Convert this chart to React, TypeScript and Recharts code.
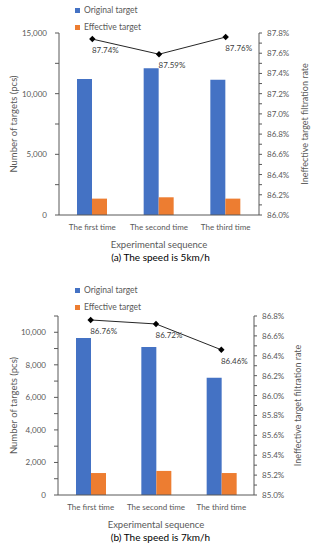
import React from 'react';
import { ComposedChart, Bar, Line, XAxis, YAxis, Legend, LabelList } from 'recharts';

const categories = ['The first time', 'The second time', 'The third time'];
const seriesNames = ['Original target', 'Effective target'];

const originalA = [11200, 12100, 11150];
const effectiveA = [1350, 1460, 1350];
const rateA = [87.74, 87.59, 87.76];

const originalB = [9650, 9100, 7200];
const effectiveB = [1350, 1480, 1350];
const rateB = [86.76, 86.72, 86.46];

const leftTicksA = [0, 2500, 5000, 7500, 10000, 12500, 15000];
const rightTicksA = [86.0, 86.1, 86.2, 86.3, 86.4, 86.5, 86.6, 86.7, 86.8, 86.9, 87.0, 87.1, 87.2, 87.3, 87.4, 87.5, 87.6, 87.7, 87.8];
const leftTicksB = [0, 1000, 2000, 3000, 4000, 5000, 6000, 7000, 8000, 9000, 10000, 11000];
const rightTicksB = [85.0, 85.1, 85.2, 85.3, 85.4, 85.5, 85.6, 85.7, 85.8, 85.9, 86.0, 86.1, 86.2, 86.3, 86.4, 86.5, 86.6, 86.7, 86.8];

const BLUE = '#4472C4';
const ORANGE = '#ED7D31';
const AXIS = '#595959';
const TEXT = '#595959';

const build = (orig: number[], eff: number[], rate: number[]) =>
  categories.map((name, i) => ({ name, original: orig[i], effective: eff[i], rate: rate[i] }));

const LeftTick = ({ x, y, payload, every }: any) => {
  if (payload.value % every !== 0) return null;
  return (
    <text x={x} y={y} textAnchor="end" dominantBaseline="central" fill={TEXT} fontSize={8}>
      {payload.value.toLocaleString('en-US')}
    </text>
  );
};

const RightTick = ({ x, y, payload }: any) => {
  if (Math.round(payload.value * 10) % 2 !== 0) return null;
  return (
    <text x={x} y={y} textAnchor="start" dominantBaseline="central" fill={TEXT} fontSize={8}>
      {payload.value.toFixed(1)}%
    </text>
  );
};

const Diamond = ({ cx, cy }: any) => (
  <path d={`M${cx},${cy - 3.2}L${cx + 3.2},${cy}L${cx},${cy + 3.2}L${cx - 3.2},${cy}Z`} fill="#000" />
);

const RateLabel = ({ x, y, value }: any) => (
  <text x={x + 13} y={y + 11} textAnchor="middle" dominantBaseline="central" fill="#404040" fontSize={8}>
    {value.toFixed(2)}%
  </text>
);

interface PanelProps {
  data: any[];
  leftTicks: number[];
  labelEvery: number;
  rightTicks: number[];
  top: number;
  marginTop: number;
  leftWidth: number;
  rightWidth: number;
  rightLabelOffset: number;
  caption: string;
}

function Panel({ data, leftTicks, labelEvery, rightTicks, top, marginTop, leftWidth, rightWidth, rightLabelOffset, caption }: PanelProps) {
  return (
    <div style={{ position: 'absolute', left: 0, top, width: 315 }}>
      <ComposedChart width={315} height={250} data={data} margin={{ top: marginTop, right: 0, bottom: 0, left: 0 }} barGap={0}>
        <XAxis
          dataKey="name"
          height={35}
          tickLine={false}
          tickSize={0}
          tickMargin={9}
          axisLine={{ stroke: AXIS }}
          tick={{ fill: TEXT, fontSize: 8 }}
          interval={0}
          label={{ value: 'Experimental sequence', position: 'insideBottom', offset: 2, style: { fill: TEXT, fontSize: 9.5 } }}
        />
        <YAxis
          yAxisId="left"
          width={leftWidth}
          domain={[leftTicks[0], leftTicks[leftTicks.length - 1]]}
          ticks={leftTicks}
          interval={0}
          tickSize={4}
          tickMargin={8}
          axisLine={{ stroke: AXIS }}
          tickLine={{ stroke: AXIS }}
          tick={<LeftTick every={labelEvery} />}
          label={{ value: 'Number of targets (pcs)', angle: -90, position: 'insideLeft', offset: 14, style: { textAnchor: 'middle', fill: TEXT, fontSize: 9.5 } }}
        />
        <YAxis
          yAxisId="right"
          orientation="right"
          width={rightWidth}
          domain={[rightTicks[0], rightTicks[rightTicks.length - 1]]}
          ticks={rightTicks}
          interval={0}
          tickSize={3}
          tickMargin={5}
          axisLine={{ stroke: AXIS }}
          tickLine={{ stroke: AXIS }}
          tick={<RightTick />}
          label={{ value: 'Ineffective target filtration rate', angle: -90, position: 'insideRight', offset: rightLabelOffset, style: { textAnchor: 'middle', fill: TEXT, fontSize: 9 } }}
        />
        <Legend
          layout="vertical"
          align="center"
          verticalAlign="middle"
          iconType="square"
          iconSize={5}
          itemSorter={(item: any) => seriesNames.indexOf(item.value)}
          wrapperStyle={{ left: 75, top: 2, width: 'auto', height: 'auto', lineHeight: '17px', fontSize: 8.5 }}
          formatter={(v: string) => <span style={{ color: TEXT }}>{v}</span>}
        />
        <Bar yAxisId="left" dataKey="original" name={seriesNames[0]} fill={BLUE} barSize={15} isAnimationActive={false} />
        <Bar yAxisId="left" dataKey="effective" name={seriesNames[1]} fill={ORANGE} barSize={15} isAnimationActive={false} />
        <Line
          yAxisId="right"
          dataKey="rate"
          stroke="#262626"
          strokeWidth={1}
          dot={<Diamond />}
          legendType="none"
          isAnimationActive={false}
        >
          <LabelList dataKey="rate" content={<RateLabel />} />
        </Line>
      </ComposedChart>
      <div style={{ width: 315, textAlign: 'center', fontSize: 10, lineHeight: '14px', color: '#000', marginLeft: 3 }}>{caption}</div>
    </div>
  );
}

export default function App() {
  return (
    <div style={{ position: 'absolute', left: 0, top: 0, width: 315, height: 550, background: '#fff', fontFamily: 'Lato, sans-serif' }}>
      <Panel
        data={build(originalA, effectiveA, rateA)}
        leftTicks={leftTicksA}
        labelEvery={5000}
        rightTicks={rightTicksA}
        top={0}
        marginTop={33}
        leftWidth={59}
        rightWidth={56}
        rightLabelOffset={10}
        caption="(a) The speed is 5km/h"
      />
      <Panel
        data={build(originalB, effectiveB, rateB)}
        leftTicks={leftTicksB}
        labelEvery={2000}
        rightTicks={rightTicksB}
        top={280}
        marginTop={36}
        leftWidth={58}
        rightWidth={61}
        rightLabelOffset={17}
        caption="(b) The speed is 7km/h"
      />
    </div>
  );
}
